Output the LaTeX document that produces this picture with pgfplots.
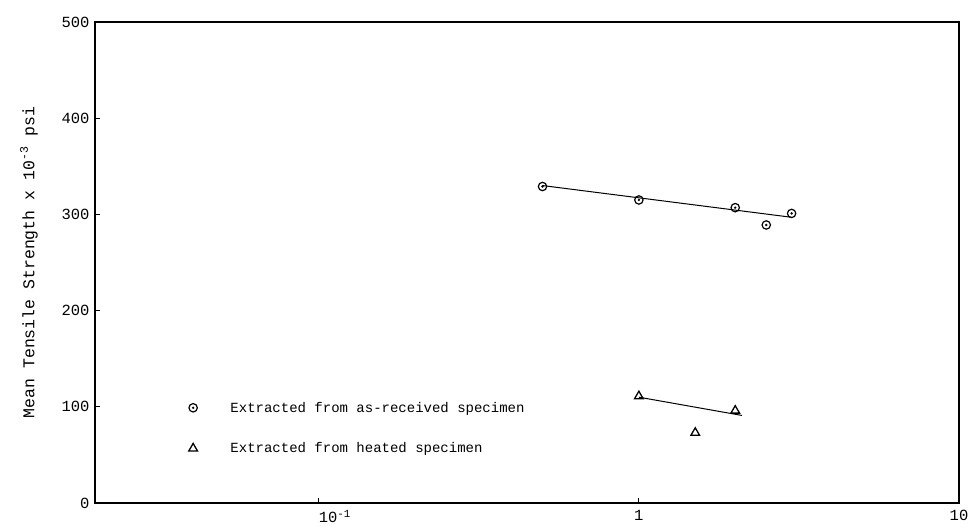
\documentclass[border=0pt]{standalone}
\usepackage{fontspec}
\setmainfont{Liberation Mono}
\usepackage{pgfplots}
\pgfplotsset{compat=1.18}
\pgfdeclareplotmark{odot}{%
  \pgfpathcircle{\pgfpointorigin}{\pgfplotmarksize}\pgfusepathqstroke
  \pgfpathcircle{\pgfpointorigin}{0.32\pgfplotmarksize}\pgfusepathqfill}
\begin{document}
\begin{tikzpicture}
\begin{axis}[
  scale only axis,
  width=864pt, height=481pt,
  xmode=log, xmin=0.02, xmax=10,
  ymin=0, ymax=500,
  axis line style={line width=1.7pt},
  tick style={line width=0.9pt, black},
  major tick length=5pt,
  minor tick num=0,
  xtick={0.1,1,10},
  xticklabels={\makebox[0pt][l]{10\textsuperscript{-1}},1,10},
  ytick={0,100,200,300,400,500},
  yticklabels={0,100,200,300,400,500},
  /pgf/number format/assume math mode=true,
  xminorticks=false,
  tick align=inside,
  xtick pos=bottom, ytick pos=left,
  tick label style={font=\fontsize{15.5}{17}\selectfont},
  xticklabel style={yshift=-4pt},
  yticklabel style={xshift=-2pt},
  ylabel={Mean Tensile Strength x 10\textsuperscript{-3} psi},
  ylabel style={font=\fontsize{16.5}{18}\selectfont, yshift=17pt},
  legend style={at={(axis cs:0.033,99)}, anchor=north west, draw=none, fill=none,
     font=\fontsize{14}{16}\selectfont, row sep=25pt,
     yshift=10pt, xshift=21pt},
  legend cell align=left,
  legend image code/.code={\draw[#1] plot coordinates {(0.35cm,0cm)};},
  /tikz/every even column/.append style={column sep=0pt},
]
\addplot[only marks, mark=odot, mark size=4.2pt, line width=1.2pt]
  coordinates {(0.5,329) (1,315) (2,307) (2.5,289) (3,301)};
\addlegendentry{\hspace{31pt}Extracted from as-received specimen}
\addplot[only marks, mark=triangle, mark size=5pt, line width=1.3pt]
  coordinates {(1,111) (2,96) (1.5,73)};
\addlegendentry{\hspace{31pt}Extracted from heated specimen}
\addplot[forget plot, no marks, line width=1pt] coordinates {(0.5,330) (3,297)};
\addplot[forget plot, no marks, line width=1pt] coordinates {(1,110) (2.1,91)};
\end{axis}
\pgfresetboundingbox
\useasboundingbox (current axis.south west) ++(-95pt,-27pt) rectangle ++(970pt,530pt);
\end{tikzpicture}
\end{document}
